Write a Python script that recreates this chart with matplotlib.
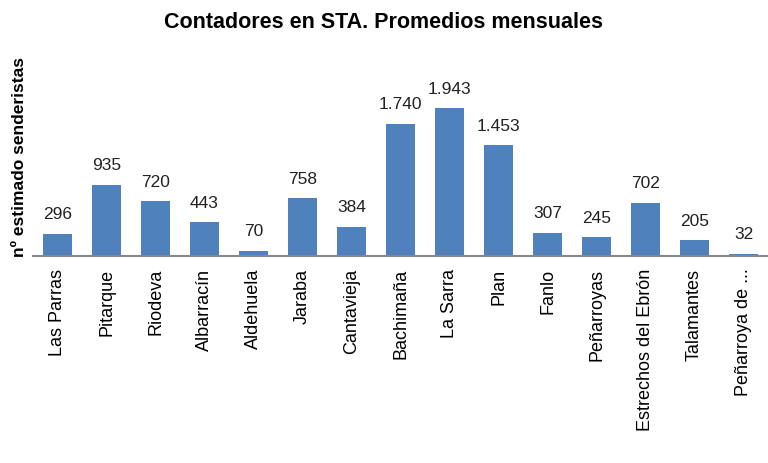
import numpy as np
import matplotlib.pyplot as plt

plt.rcParams['font.family'] = ['Liberation Sans', 'DejaVu Sans']

sites = ["Las Parras", "Pitarque", "Riodeva", "Albarracín", "Aldehuela", "Jaraba",
         "Cantavieja", "Bachimaña", "La Sarra", "Plan", "Fanlo", "Peñarroyas",
         "Estrechos del Ebrón", "Talamantes", "Peñarroya de ..."]
monthly_avg = [296, 935, 720, 443, 70, 758, 384, 1740, 1943, 1453, 307, 245, 702, 205, 32]
value_labels = ["296", "935", "720", "443", "70", "758", "384", "1.740", "1.943",
                "1.453", "307", "245", "702", "205", "32"]

fig = plt.figure(figsize=(7.68, 4.63), dpi=100)
ax = fig.add_axes([0.043, 0.447, 0.957, 0.411])

x = np.arange(len(sites))
ax.bar(x, monthly_avg, width=0.61, color="#4F81BD")
for xi, v, lab in zip(x, monthly_avg, value_labels):
    ax.text(xi, v + 150, lab, ha="center", va="bottom", fontsize=12.5, color="#222222")

ax.set_xlim(-0.5, len(sites) - 0.5)
ax.set_ylim(0, 2500)
ax.set_xticks(x)
ax.set_xticklabels(sites, rotation=90, fontsize=13)
ax.tick_params(axis="x", length=0, pad=9)
ax.set_yticks([])
for s in ["top", "right", "left"]:
    ax.spines[s].set_visible(False)
ax.spines["bottom"].set_color("#888888")
ax.spines["bottom"].set_linewidth(1.5)

fig.text(0.5, 0.952, "Contadores en STA. Promedios mensuales", ha="center", va="center",
         fontsize=15.5, fontweight="bold")
fig.text(0.025, 0.66, "nº estimado senderistas", rotation=90, ha="center", va="center",
         fontsize=12.5, fontweight="bold")

plt.savefig("out.png", dpi=100)
